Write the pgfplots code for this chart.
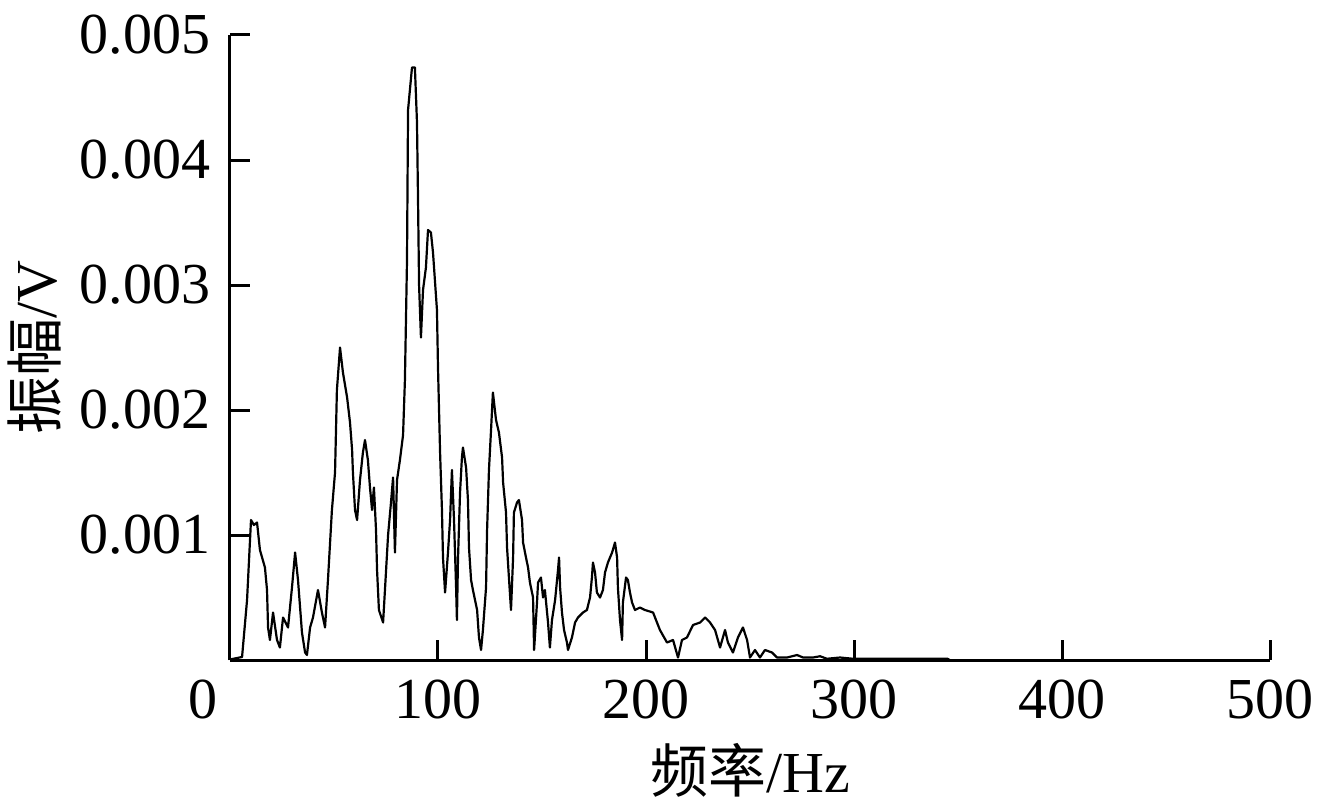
\documentclass[border=0pt]{standalone}
\usepackage{fontspec}
\setmainfont{Liberation Serif}
\newfontfamily\cjk{Noto Sans CJK SC}
\usepackage{pgfplots}
\pgfplotsset{compat=1.18}
\begin{document}
\fontsize{29}{34}\selectfont
\begin{tikzpicture}
\begin{axis}[
 width=520pt, height=312.5pt, scale only axis,
 xmin=0, xmax=500, ymin=0, ymax=0.005,
 axis x line=bottom, axis y line=left,
 axis line style={-, line width=1.5pt},
 tick align=inside, major tick length=10pt,
 tick style={line width=1.5pt, black},
 xtick={0,100,200,300,400,500},
 xticklabels={{\rlap{\hspace*{-13.5pt}0}\phantom{0}},100,200,300,400,500},
 ytick={0.001,0.002,0.003,0.004,0.005},
 scaled y ticks=false,
 yticklabel style={/pgf/number format/fixed, /pgf/number format/precision=3, /pgf/number format/fixed zerofill},
 /pgf/number format/assume math mode=true,
 tick label style={font=\fontsize{29}{34}\selectfont},
 label style={font=\fontsize{29}{34}\selectfont},
 xlabel={{\cjk 频率}/Hz}, ylabel={{\cjk 振幅}/V},
 xlabel style={at={(axis description cs:0.5,-0.176)}, anchor=center},
 ylabel style={at={(axis description cs:-0.1875,0.5)}, anchor=center},
]
\addplot[black, line width=1.1pt, line join=round] coordinates {
(0,0) (1.0,0.000008) (5.8,0.000024) (8.2,0.00048) (10.1,0.00112) (11.5,0.00108) (13.0,0.0011)
(14.4,0.00088) (16.8,0.00074) (17.8,0.00056) (18.3,0.00026) (19.2,0.00016) (20.7,0.00038)
(22.6,0.00016) (24.0,0.0001) (25.5,0.00034) (27.9,0.00026) (29.8,0.00058) (31.3,0.00086)
(32.7,0.00064) (34.6,0.00022) (36.1,0.00006) (37.0,0.00004) (38.5,0.00026) (39.9,0.00034)
(42.3,0.00056) (44.2,0.00038) (45.7,0.00026) (47.1,0.00064) (49.0,0.0012) (50.5,0.0015)
(51.4,0.00216) (52.9,0.0025) (54.3,0.0023) (56.3,0.0021) (57.7,0.0019) (58.7,0.00168)
(59.1,0.0015) (60.1,0.0012) (61.1,0.00112) (62.5,0.00144) (63.9,0.00166) (64.9,0.00176)
(66.3,0.0016) (67.3,0.00138) (68.3,0.0012) (69.2,0.00138) (70.2,0.00104) (70.7,0.00072)
(71.6,0.0004) (73.6,0.0003) (74.5,0.00056) (76.0,0.001) (77.4,0.00126) (78.4,0.00146)
(79.3,0.00086) (80.3,0.00144) (81.7,0.0016) (83.2,0.0018) (84.1,0.00224) (85.1,0.0032)
(85.6,0.0044) (87.5,0.00474) (88.9,0.00474) (89.9,0.0043) (90.4,0.00368) (90.9,0.003)
(91.8,0.00258) (92.8,0.00296) (94.2,0.00314) (95.2,0.00344) (96.6,0.00342) (97.6,0.00326)
(99.5,0.0028) (100.0,0.00234) (101.0,0.00166) (101.9,0.0012) (102.4,0.00082) (103.4,0.00054)
(104.8,0.00086) (105.8,0.00112) (106.7,0.00152) (107.7,0.00112) (108.7,0.00058) (109.1,0.00032)
(109.6,0.0008) (110.6,0.00134) (111.5,0.00162) (112.0,0.0017) (113.5,0.00154) (114.4,0.00128)
(114.9,0.0009) (115.9,0.00064) (116.8,0.00056) (118.8,0.0004) (119.7,0.00018) (120.7,0.00008)
(121.6,0.00024) (123.1,0.00058) (123.6,0.00104) (124.5,0.00152) (125.5,0.00184) (126.4,0.00214)
(127.9,0.00192) (129.3,0.00182) (130.8,0.00162) (131.3,0.00142) (132.7,0.00118) (133.2,0.0009)
(134.1,0.00066) (135.1,0.0004) (136.1,0.00082) (136.5,0.00118) (138.0,0.00126) (138.9,0.00128)
(140.4,0.00112) (140.9,0.00094) (142.3,0.00082) (143.3,0.00074) (144.2,0.00062) (145.7,0.0005)
(146.2,0.00008) (147.6,0.00046) (148.1,0.00062) (149.5,0.00066) (150.5,0.0005) (151.4,0.00056)
(152.9,0.0003) (153.8,0.0001) (154.8,0.00032) (156.3,0.00048) (157.7,0.00072) (158.2,0.00082)
(158.7,0.00058) (159.6,0.00038) (160.6,0.00024) (162.0,0.00014) (162.5,0.00008) (164.4,0.00018)
(165.9,0.0003) (167.3,0.00034) (169.7,0.00038) (171.6,0.0004) (173.1,0.0005) (174.0,0.00066)
(174.5,0.00078) (175.5,0.0007) (176.4,0.00054) (177.9,0.0005) (179.3,0.00056) (180.3,0.0007)
(181.7,0.00078) (183.7,0.00086) (185.1,0.00094) (186.1,0.00082) (186.5,0.00058) (187.5,0.00032)
(188.5,0.00016) (188.9,0.00046) (190.4,0.00066) (191.3,0.00064) (192.3,0.00054) (193.3,0.00046)
(194.7,0.0004) (197.1,0.00042) (199.5,0.0004) (203.4,0.00038) (206.7,0.00024) (210.1,0.00014)
(213.0,0.00016) (215.4,0.00002) (217.3,0.00016) (219.7,0.00018) (222.6,0.00028) (226.0,0.0003)
(228.4,0.00034) (230.8,0.0003) (233.2,0.00024) (235.6,0.0001) (238.0,0.00024) (239.4,0.00014)
(241.8,0.00006) (244.2,0.00018) (246.6,0.00026) (248.6,0.00016) (250.0,0.00002) (252.4,0.00008)
(254.8,0.00002) (257.2,0.00008) (260.6,0.00006) (263.0,0.00002) (267.8,0.00002) (272.6,0.00004)
(275.5,0.00002) (280.3,0.00002) (283.7,0.00003) (287.0,0.00001) (293.3,0.00002) (299.5,0.00001)
(320,0.00001) (345,0.00001) (346,0)
};
\end{axis}
\pgfresetboundingbox
\path[use as bounding box] (-115pt,-75pt) rectangle (554pt,330pt);
\end{tikzpicture}
\end{document}
